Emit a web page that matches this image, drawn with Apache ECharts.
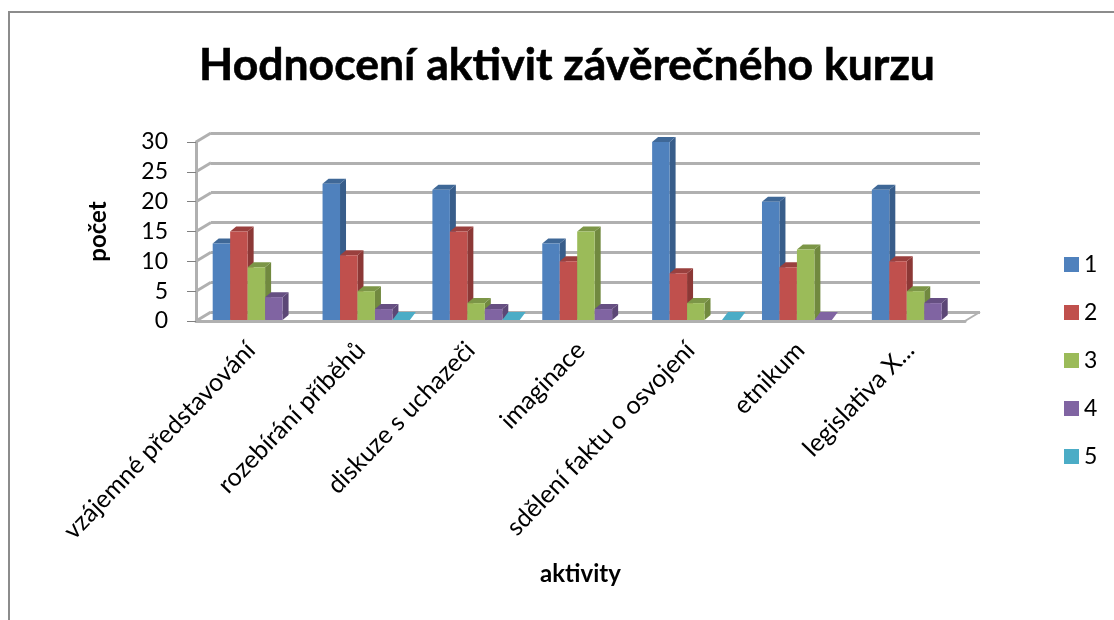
<!DOCTYPE html>
<html>
<head>
<meta charset="utf-8">
<title>Hodnocení aktivit závěrečného kurzu</title>
<script src="https://cdn.jsdelivr.net/npm/echarts@6/dist/echarts.min.js"></script>
<style>
html, body { margin: 0; padding: 0; background: #fff; }
#chart { width: 1114px; height: 620px; }
</style>
</head>
<body>
<div id="chart"></div>
<script>
const categories = ['vzájemné představování', 'rozebírání příběhů', 'diskuze s uchazeči', 'imaginace', 'sdělení faktu o osvojení', 'etnikum', 'legislativa X...']
const seriesNames = ['1', '2', '3', '4', '5']
// null = bez hodnoty, 0 = jen plochy kvadr
const values1 = [13, 23, 22, 13, 30, 20, 22]
const values2 = [15, 11, 15, 10, 8, 9, 10]
const values3 = [9, 5, 3, 15, 3, 12, 5]
const values4 = [4, 2, 2, 2, null, 0, 3]
const values5 = [null, 0, 0, null, 0, null, null]
const yTicks = [0, 5, 10, 15, 20, 25, 30]

const allValues = [values1, values2, values3, values4, values5]
const faces = ['#4f81bd', '#c0504d', '#9bbb59', '#8064a2', '#4bacc6']
const sides = ['#385d8a', '#8c3836', '#71893f', '#5c4776', '#357d91']
const tops = ['#3f6897', '#9a403e', '#7c9647', '#664f82', '#3c8a9f']
const fontName = 'Lato'
const gridCol = '#b0b0b0'
const depthX = 6 // hloubka sloupce
const depthY = 5
const wallX = 15 // posun zadni steny
const wallY = 9

const myChart = echarts.init(document.getElementById('chart'), null, { renderer: 'canvas' })

function barRender(idx) {
  return function(params, api) {
    const val = api.value(1)
    if (val === null || isNaN(val)) return
    const band = api.size([1, 0])[0]
    const base = api.coord([api.value(0), 0])
    const head = api.coord([api.value(0), val])
    const w = band * 0.159
    const x0 = base[0] - band / 2 + band * (0.152 + idx * 0.159)
    const x1 = x0 + w
    const yb = base[1] - 1
    const yt = Math.min(head[1], yb)
    // nulova hodnota je v originale jen svetla ploska
    const flat = val === 0
    const dy = flat ? 8 : depthY
    return {
      type: 'group',
      children: [
        { type: 'polygon', shape: { points: [[x1, yt], [x1 + depthX, yt - dy], [x1 + depthX, yb - dy], [x1, yb]] }, style: { fill: sides[idx] } },
        { type: 'polygon', shape: { points: [[x0, yt], [x0 + depthX, yt - dy], [x1 + depthX, yt - dy], [x1, yt]] }, style: { fill: flat ? faces[idx] : tops[idx] } },
        { type: 'rect', shape: { x: x0, y: yt, width: w, height: yb - yt }, style: { fill: faces[idx] } }
      ]
    }
  }
}

// sikme cary leve steny a podlaha
function wallRender(params, api) {
  const p = api.coord([0, api.value(1)])
  const left = p[0] - api.size([1, 0])[0] / 2
  const children = [{
    type: 'line',
    shape: { x1: left, y1: p[1], x2: left + wallX, y2: p[1] - wallY },
    style: { stroke: gridCol, lineWidth: 3 }
  }]
  if (api.value(1) === 0) {
    const right = left + api.size([1, 0])[0] * categories.length
    children.push({
      type: 'line',
      shape: { x1: right, y1: p[1], x2: right + wallX, y2: p[1] - wallY },
      style: { stroke: gridCol, lineWidth: 2 }
    })
  }
  return { type: 'group', children: children }
}

const barSeries = seriesNames.map((name, i) => ({
  name: name,
  type: 'custom',
  xAxisIndex: 0,
  yAxisIndex: 0,
  z: 5,
  itemStyle: { color: faces[i] },
  encode: { x: 0, y: 1 },
  renderItem: barRender(i),
  data: allValues[i].map((v, c) => [c, v])
}))

const option = {
  backgroundColor: '#fff',
  animation: false,
  title: {
    text: 'Hodnocení aktivit závěrečného kurzu',
    left: 562,
    top: 38,
    textAlign: 'center',
    textStyle: { fontFamily: fontName, fontWeight: 'bold', fontSize: 44.5, color: '#000', textBorderColor: '#000', textBorderWidth: 0.6 }
  },
  legend: {
    orient: 'vertical',
    left: 1059,
    top: 248,
    icon: 'rect',
    itemWidth: 15,
    itemHeight: 15,
    itemGap: 25,
    data: seriesNames,
    textStyle: { fontFamily: fontName, fontSize: 23, lineHeight: 15, color: '#000' }
  },
  graphic: [{
    type: 'polyline',
    shape: { points: [[9, 630], [9, 12], [1124, 12]] },
    style: { stroke: '#8c8c8c', lineWidth: 2, fill: null }
  }],
  grid: [
    { left: 196, width: 769, top: 142, height: 179 },
    { left: 211, width: 769, top: 133, height: 179 }
  ],
  xAxis: [{
    type: 'category',
    gridIndex: 0,
    data: categories,
    name: 'aktivity',
    nameLocation: 'middle',
    nameGap: 241,
    nameTextStyle: { fontFamily: fontName, fontWeight: 'bold', fontSize: 24, color: '#000' },
    axisTick: { show: false },
    axisLine: { show: true, lineStyle: { color: gridCol, width: 3 } },
    axisLabel: { rotate: 46, interval: 0, margin: 25, fontFamily: fontName, fontSize: 25, color: '#000' }
  }, {
    type: 'category',
    gridIndex: 1,
    data: categories,
    show: false
  }],
  yAxis: [{
    type: 'value',
    gridIndex: 0,
    min: 0,
    max: 30,
    interval: 5,
    name: 'počet',
    nameLocation: 'middle',
    nameGap: 86,
    nameTextStyle: { fontFamily: fontName, fontWeight: 'bold', fontSize: 24, color: '#000' },
    splitLine: { show: false },
    axisLine: { show: true, lineStyle: { color: gridCol, width: 3 } },
    axisTick: { show: true, length: 9, lineStyle: { color: '#808080', width: 1 } },
    axisLabel: { margin: 28, fontFamily: fontName, fontSize: 23, color: '#000' }
  }, {
    type: 'value',
    gridIndex: 1,
    min: 0,
    max: 30,
    interval: 5,
    axisLine: { show: false },
    axisTick: { show: false },
    axisLabel: { show: false },
    splitLine: { show: true, lineStyle: { color: gridCol, width: 3 } }
  }],
  series: [{
    name: 'stena',
    type: 'custom',
    xAxisIndex: 0,
    yAxisIndex: 0,
    z: 1,
    silent: true,
    encode: { x: 0, y: 1 },
    renderItem: wallRender,
    data: yTicks.map(t => [0, t])
  }].concat(barSeries)
}

myChart.setOption(option)
</script>
</body>
</html>
